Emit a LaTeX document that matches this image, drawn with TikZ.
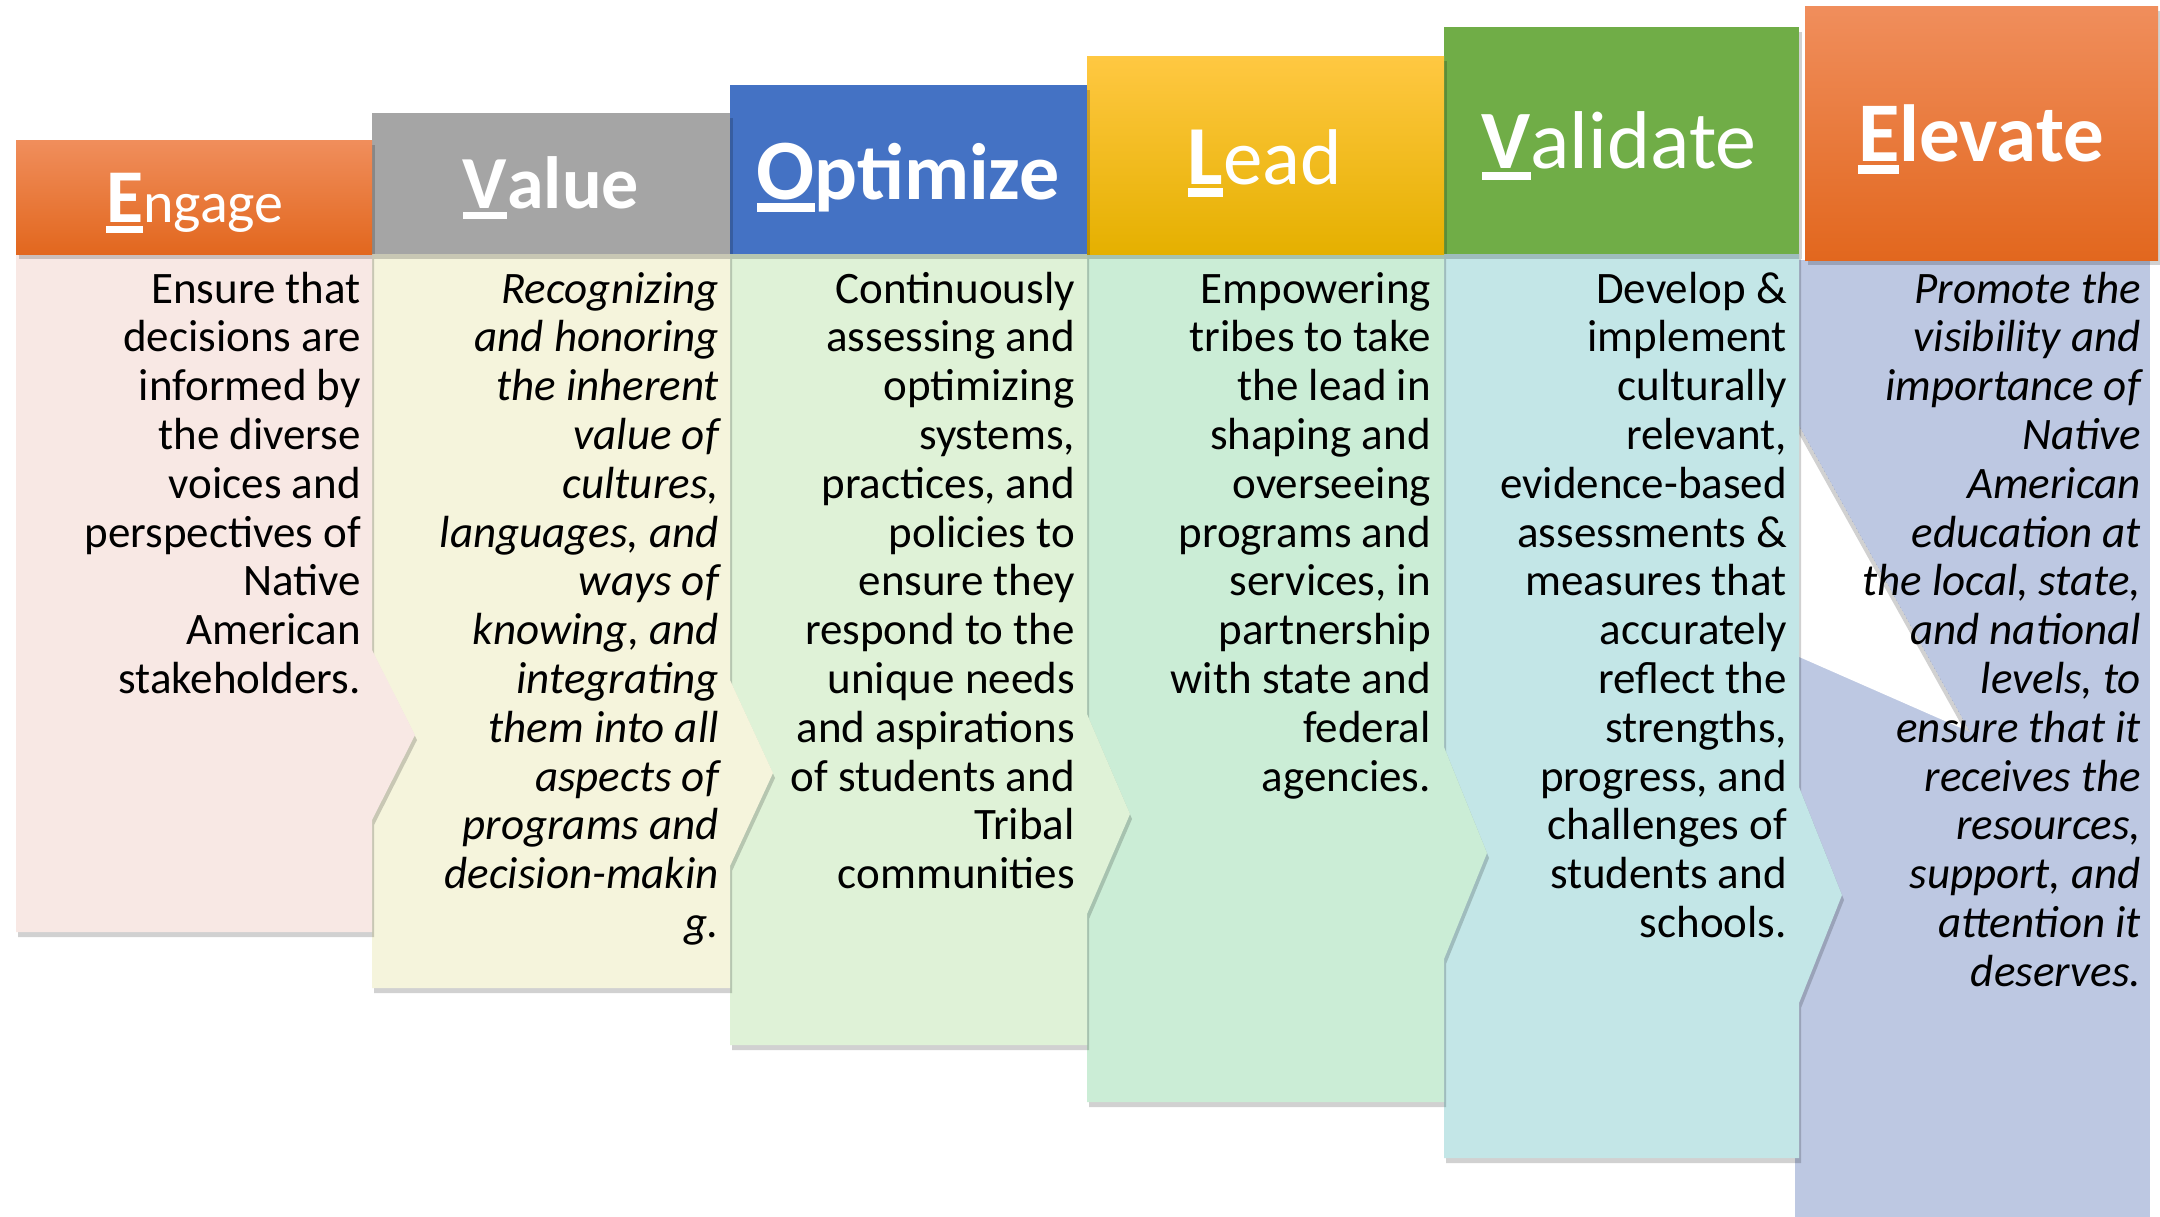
\documentclass[tikz,border=0pt]{standalone}
\usepackage{fontspec}
\setmainfont{Carlito}
\definecolor{orT}{HTML}{F08E5C}
\definecolor{orM}{HTML}{F37C2A}
\definecolor{orB}{HTML}{E2671E}
\definecolor{goT}{HTML}{FFC842}
\definecolor{goM}{HTML}{FFC000}
\definecolor{goB}{HTML}{E5B000}
\definecolor{hdgray}{HTML}{A5A5A5}
\definecolor{hdblue}{HTML}{4472C4}
\definecolor{hdgreen}{HTML}{70AD47}
\definecolor{bEng}{HTML}{F8E8E4}
\definecolor{bVal}{HTML}{F5F4DC}
\definecolor{bOpt}{HTML}{DFF2D7}
\definecolor{bLead}{HTML}{CBEDD6}
\definecolor{bVald}{HTML}{C3E6E7}
\definecolor{bElev}{HTML}{BDC8E2}
\newcommand\hdfirst[2]{{\fontsize{#1}{#1}\selectfont\bfseries\setbox0\hbox{#2}\rlap{\rule[-0.15em]{\wd0}{0.1em}}\box0}}
\newcommand\bodypath[6]{(#1,#3) -- (#2,#3) -- (#2,#5-#6) -- (#2+43,#5) -- (#2,#5+#6) -- (#2,#4) -- (#1,#4) -- cycle}
\begin{document}
\begin{tikzpicture}[x=1pt,y=-1pt,
  shadowfill/.style={fill=black,opacity=0.18},
  hdtext/.style={text=white,inner sep=0pt},
  bodytext/.style={inner sep=0pt,text=black,font=\fontsize{45}{48.8}\selectfont},
  bodyital/.style={bodytext,font=\fontsize{45}{48.8}\selectfont\itshape}]
\useasboundingbox (0,0) rectangle (2160,1216);
\fill[white] (0,0) rectangle (2160,1216);

% ---------- bodies (drawn from right to left) ----------
\fill[bElev] (1795,260) rectangle (2150,1230);
\begin{scope}
  \clip (1797,422) -- (1970,732) -- (1797,656) -- cycle;
  \fill[white] (1797,422) -- (1970,732) -- (1797,656) -- cycle;
  \draw[black,opacity=0.18,line width=8pt] (1797,422) -- (1970,732);
\end{scope}

\fill[shadowfill,shift={(2,5)}] \bodypath{1444}{1799}{254}{1158}{895}{108};
\fill[bVald] \bodypath{1444}{1799}{254}{1158}{895}{108};

\fill[shadowfill,shift={(2,5)}] \bodypath{1087}{1444}{254}{1102}{853}{106};
\fill[bLead] \bodypath{1087}{1444}{254}{1102}{853}{106};

\fill[shadowfill,shift={(2,5)}] \bodypath{730}{1087}{254}{1045}{814}{100};
\fill[bOpt] \bodypath{730}{1087}{254}{1045}{814}{100};

\fill[shadowfill,shift={(2,5)}] \bodypath{372}{730}{254}{988}{773}{93};
\fill[bVal] \bodypath{372}{730}{254}{988}{773}{93};

\fill[shadowfill,shift={(2,5)}] \bodypath{16}{372}{254}{932}{735}{85};
\fill[bEng] \bodypath{16}{372}{254}{932}{735}{85};

% ---------- headers ----------
\fill[shadowfill,shift={(3,5)}] (1805,6) rectangle (2158,260);
\fill[top color=orT,middle color=orM,bottom color=orB] (1805,6) rectangle (2158,260);
\fill[shadowfill,shift={(3,5)}] (1444,27) rectangle (1799,254);
\fill[hdgreen] (1444,27) rectangle (1799,254);
\fill[shadowfill,shift={(3,5)}] (1087,56) rectangle (1444,254);
\fill[top color=goT,middle color=goM,bottom color=goB] (1087,56) rectangle (1444,254);
\fill[shadowfill,shift={(3,5)}] (730,85) rectangle (1087,254);
\fill[hdblue] (730,85) rectangle (1087,254);
\fill[shadowfill,shift={(3,5)}] (372,113) rectangle (730,254);
\fill[hdgray] (372,113) rectangle (730,254);
\fill[shadowfill,shift={(3,5)}] (16,140) rectangle (372,254);
\fill[top color=orT,middle color=orM,bottom color=orB] (16,140) rectangle (372,254);

% ---------- header texts ----------
\node[hdtext,anchor=base] (hEng) at (195,222) {\hdfirst{76}{E}\fontsize{58}{58}\selectfont ngage};
\node[hdtext,anchor=base] (hVal) at (551,208) {\hdfirst{75}{V}\fontsize{74}{74}\selectfont\bfseries alue};
\node[hdtext,anchor=base] (hOpt) at (908,199) {\hdfirst{86}{O}\fontsize{80}{80}\selectfont\bfseries ptimize};
\node[hdtext,anchor=base] (hLead) at (1265,184) {\hdfirst{84}{L}\fontsize{79}{79}\selectfont ead};
\node[hdtext,anchor=base] (hVald) at (1619,168) {\hdfirst{83}{V}\fontsize{82}{82}\selectfont alidate};
\node[hdtext,anchor=base] (hElev) at (1981,161) {\hdfirst{85}{E}\fontsize{81}{81}\selectfont\bfseries levate};

% ---------- body texts ----------
\node[bodytext,anchor=base east] (tEng) at (361,303) {\begin{tabular}[t]{@{}r@{}}Ensure that\\decisions are\\informed by\\the diverse\\voices and\\perspectives of\\Native\\American\\stakeholders.\end{tabular}};
\node[bodyital,anchor=base east] (tVal) at (719,303) {\begin{tabular}[t]{@{}r@{}}Recognizing\\and honoring\\the inherent\\value of\\cultures,\\languages, and\\ways of\\knowing, and\\integrating\\them into all\\aspects of\\programs and\\decision-makin\\g.\end{tabular}};
\node[bodytext,anchor=base east] (tOpt) at (1075,303) {\begin{tabular}[t]{@{}r@{}}Continuously\\assessing and\\optimizing\\systems,\\practices, and\\policies to\\ensure they\\respond to the\\unique needs\\and aspirations\\of students and\\Tribal\\communities\end{tabular}};
\node[bodytext,anchor=base east] (tLead) at (1431,303) {\begin{tabular}[t]{@{}r@{}}Empowering\\tribes to take\\the lead in\\shaping and\\overseeing\\programs and\\services, in\\partnership\\with state and\\federal\\agencies.\end{tabular}};
\node[bodytext,anchor=base east] (tVald) at (1787,303) {\begin{tabular}[t]{@{}r@{}}Develop \&\\implement\\culturally\\relevant,\\evidence-based\\assessments \&\\measures that\\accurately\\reflect the\\strengths,\\progress, and\\challenges of\\students and\\schools.\end{tabular}};
\node[bodyital,anchor=base east] (tElev) at (2141,303) {\begin{tabular}[t]{@{}r@{}}Promote the\\visibility and\\importance of\\Native\\American\\education at\\the local, state,\\and national\\levels, to\\ensure that it\\receives the\\resources,\\support, and\\attention it\\deserves.\end{tabular}};
\end{tikzpicture}
\end{document}
